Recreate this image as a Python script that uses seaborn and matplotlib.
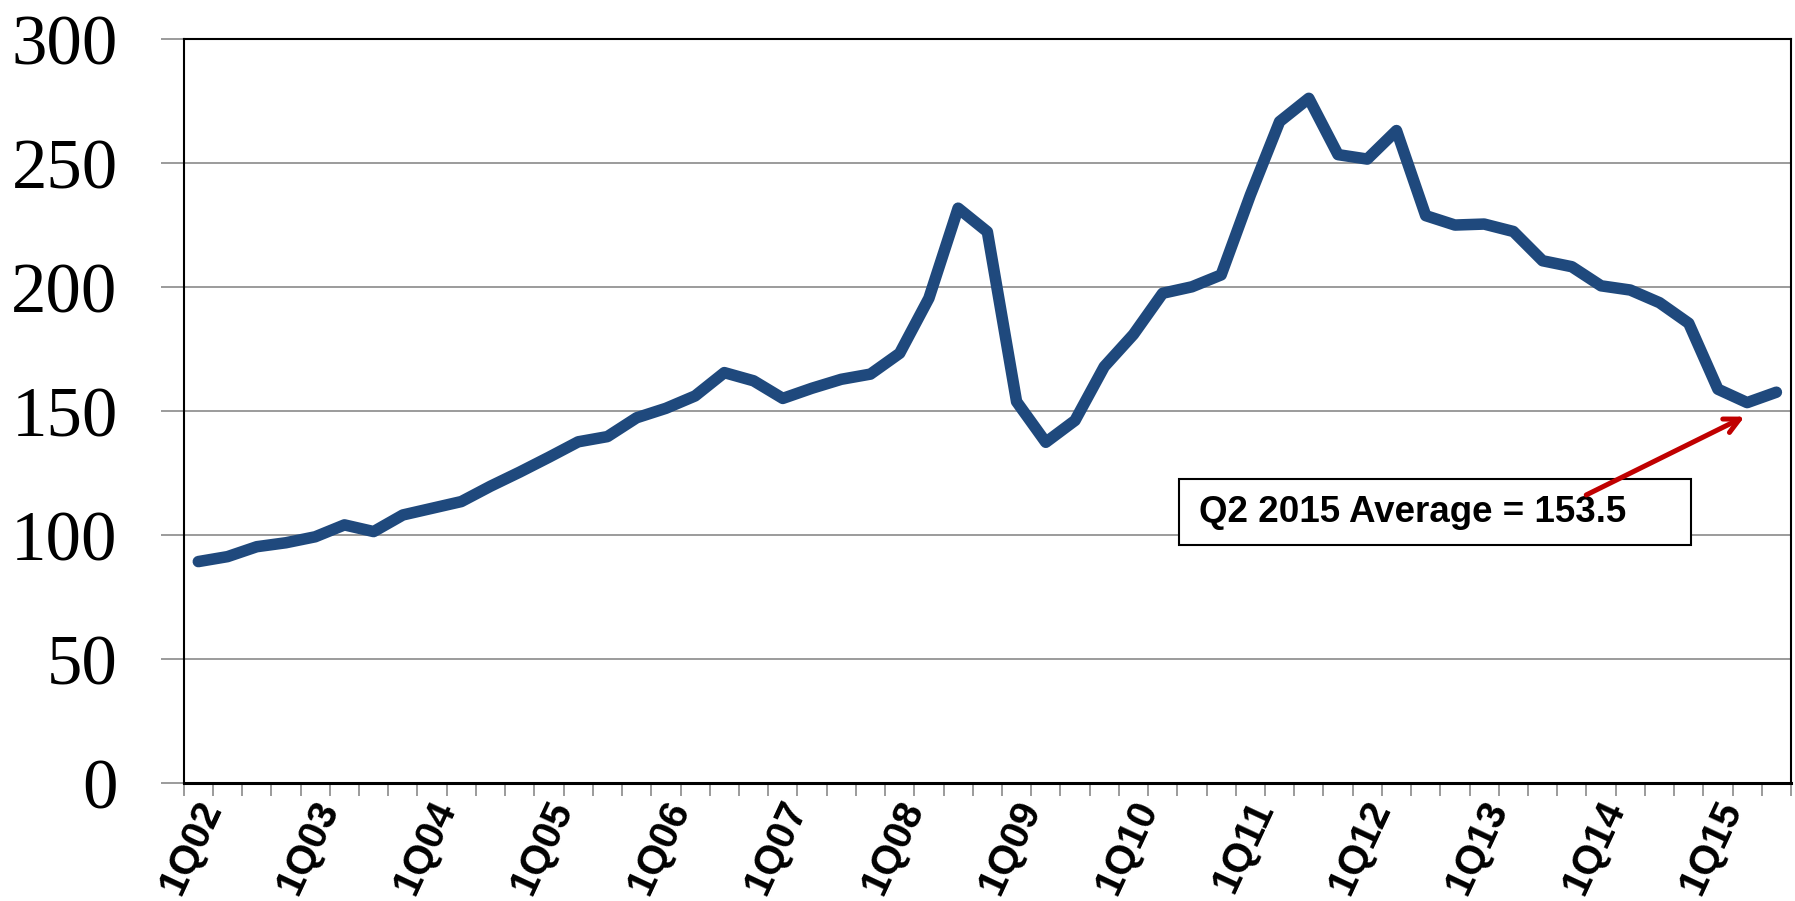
import matplotlib
matplotlib.use("Agg")
import matplotlib.pyplot as plt
import matplotlib.transforms as mtransforms
from matplotlib.patches import Rectangle
import seaborn as sns
import pandas as pd
import numpy as np

# ---- data (quarterly, 1Q02 .. 3Q15) ----
values = [89.4, 91.4, 95.4, 97.0, 99.4, 104.2, 101.5, 108.2, 110.9, 113.6,
          119.8, 125.5, 131.5, 137.7, 139.8, 147.4, 151.2, 156.2, 165.6, 162.3,
          155.2, 159.3, 162.9, 165.0, 173.4, 195.6, 231.9, 222.4, 153.9, 137.5,
          146.3, 168.0, 181.0, 197.6, 200.2, 205.0, 237.2, 266.8, 276.2, 253.5,
          251.7, 263.2, 228.9, 225.1, 225.5, 222.5, 210.7, 208.3, 200.6, 198.9,
          193.8, 185.5, 158.9, 153.5, 157.7]
tick_labels = ['1Q02', '1Q03', '1Q04', '1Q05', '1Q06', '1Q07', '1Q08',
               '1Q09', '1Q10', '1Q11', '1Q12', '1Q13', '1Q14', '1Q15']
y_ticks = [0, 50, 100, 150, 200, 250, 300]
annot_text = 'Q2 2015 Average = 153.5'
annot_index = 53  # 2Q15

df = pd.DataFrame({'q': np.arange(len(values)), 'value': values})

sns.set_theme(style='white')
plt.rcParams['font.family'] = ['Liberation Sans', 'DejaVu Sans']
plt.rcParams['text.color'] = 'black'
plt.rcParams['xtick.labelcolor'] = 'black'
plt.rcParams['ytick.labelcolor'] = 'black'

W, H = 1795, 901
fig = plt.figure(figsize=(W / 100, H / 100), dpi=100)
ax = fig.add_axes([183.7 / W, 1 - 783.3 / H, (1791 - 183.7) / W, (783.3 - 39.3) / H])

line_color = '#1F497D'
sns.lineplot(data=df, x='q', y='value', ax=ax, color=line_color, linewidth=8.3,
             solid_capstyle='round', solid_joinstyle='round', zorder=3)

ax.set_xlim(-0.5, len(values) - 0.5)
ax.set_ylim(0, 300)
ax.set_xlabel('')
ax.set_ylabel('')

# y axis
ax.set_yticks(y_ticks)
ax.set_yticklabels([str(v) for v in y_ticks], fontfamily='Liberation Serif', fontsize=51,
                   color='black')
ax.yaxis.grid(True, color='#808080', linewidth=1.1, zorder=0)
ax.tick_params(axis='y', which='major', direction='out', length=16.5, width=1.1,
               color='#808080', pad=31, left=True)

# x axis: labels at every 4th quarter, tick marks between categories
ax.set_xticks(np.arange(0, len(values), 4))
ax.set_xticklabels(tick_labels, rotation=65, fontsize=29, fontweight='bold', color='black',
                   ha='right', va='center', rotation_mode='anchor')
ax.set_xticks(np.arange(-0.5, len(values), 1), minor=True)
ax.tick_params(axis='x', which='major', length=0, pad=14)
ax.tick_params(axis='x', which='minor', direction='out', length=9, width=1.1,
               color='#808080', bottom=True)
offset = mtransforms.ScaledTranslation(14 / 100, 0, fig.dpi_scale_trans)
for lbl in ax.get_xticklabels():
    lbl.set_transform(lbl.get_transform() + offset)

for side in ['left', 'top', 'right']:
    ax.spines[side].set_visible(True)
    ax.spines[side].set_color('black')
    ax.spines[side].set_linewidth(1.5)
ax.spines['bottom'].set_color('black')
ax.spines['bottom'].set_linewidth(2.2)

# annotation box (drawn in figure coordinates, below the arrow)
box = Rectangle((1179 / W, 1 - 544.5 / H), (1691 - 1179) / W, (544.5 - 479.3) / H,
                transform=fig.transFigure, fill=True, facecolor='white',
                edgecolor='black', linewidth=1.5, zorder=5, clip_on=False)
ax.add_patch(box)
ax.text(1199 / W, 1 - 512 / H, annot_text, transform=fig.transFigure, fontsize=26.5,
        fontweight='bold', color='black', ha='left', va='center', zorder=6)

# red arrow pointing to Q2 2015 point
tip = mtransforms.offset_copy(ax.transData, fig=fig, x=-2.6, y=-14, units='dots')
ax.annotate('', xy=(annot_index, values[annot_index]), xycoords=tip,
            xytext=(-114, -56.4), textcoords='offset points',
            arrowprops=dict(arrowstyle='->,head_length=0.9,head_width=0.45',
                            color='#C00000', linewidth=3.6,
                            shrinkA=0, shrinkB=0, capstyle='round', joinstyle='round'),
            zorder=7, annotation_clip=False)

fig.savefig('out.png', dpi=100, facecolor='white')
